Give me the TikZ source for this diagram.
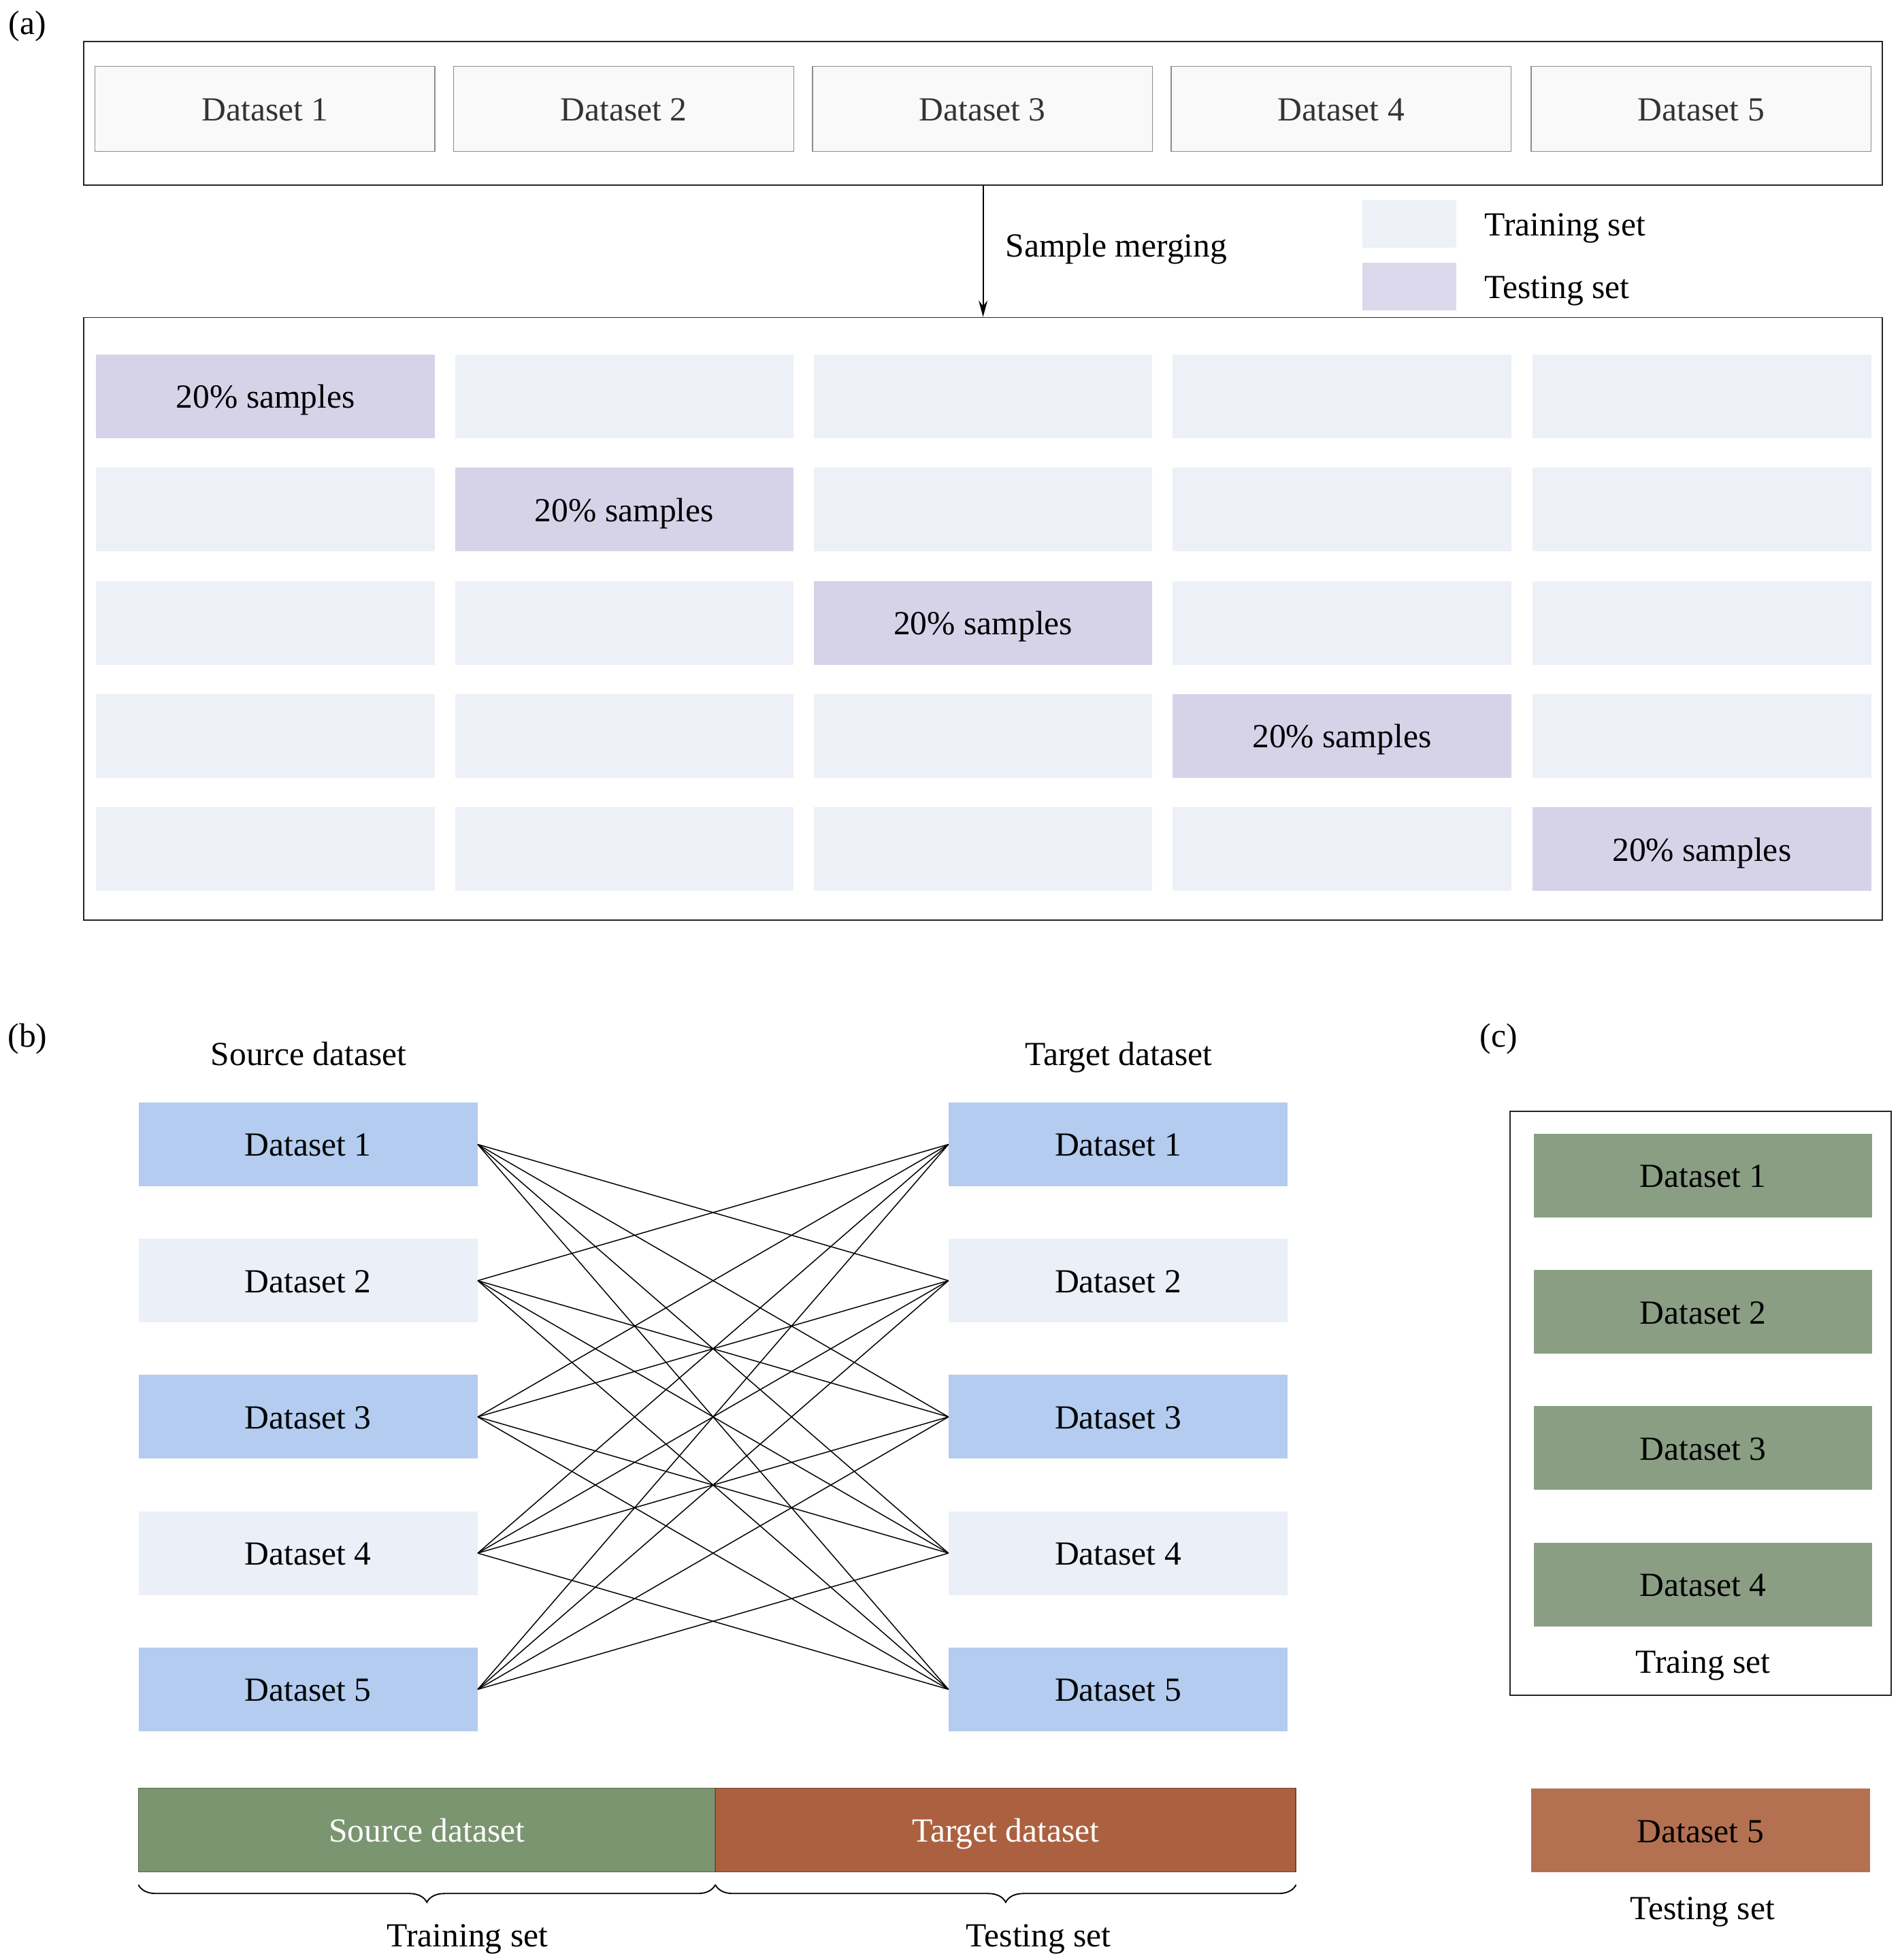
\documentclass[tikz,border=0pt]{standalone}
\usepackage{fontspec}
\setmainfont{Liberation Serif}
\usetikzlibrary{arrows.meta, positioning, decorations.pathreplacing}

\definecolor{rawfill}{HTML}{F9F9F9}
\definecolor{rawline}{HTML}{8C8C8C}
\definecolor{trainfill}{HTML}{EEF0F8}
\definecolor{testfill}{HTML}{D6D3E9}
\definecolor{legtest}{HTML}{DCD9EC}
\definecolor{blueset}{HTML}{B3CCF0}
\definecolor{paleset}{HTML}{EBEFF7}
\definecolor{srcgreen}{HTML}{7B9571}
\definecolor{tgtbrown}{HTML}{AB6140}
\definecolor{cgreen}{HTML}{8A9E84}
\definecolor{cbrown}{HTML}{B37152}

\tikzset{
    setbox/.style={minimum width=271pt, minimum height=67pt, inner sep=0pt},
    rawbox/.style={setbox, fill=rawfill, draw=rawline, line width=0.8pt, text=black!80},
    frame/.style={draw=black!85, line width=1pt}
}

\begin{document}
\begin{tikzpicture}[
    x=1pt, y=-1pt,
    > = Stealth,
    font=\fontsize{27}{32}\selectfont,
    every node/.style={text height=20pt, text depth=1pt}
]
    % Fix the page size
    \useasboundingbox (0,0) rectangle (1520,1568);

    % ---------------- (a) ----------------
    \node at (22,18) {(a)};
    \node[frame, minimum width=1439pt, minimum height=115pt, inner sep=0pt] (rawframe) at (786.5,90.5) {};
    \foreach \k/\cx in {1/212,2/499,3/786,4/1073,5/1361}
        \node[rawbox, minimum width=272pt, minimum height=68pt] (raw\k) at (\cx,87) {Dataset \k};

    % Merged samples frame
    \node[frame, minimum width=1439pt, minimum height=482pt, inner sep=0pt] (gridframe) at (786.5,495) {};
    \draw[->, line width=1pt, >={Stealth[length=13pt, width=7pt]}] (rawframe.south) -- (gridframe.north);
    \node[anchor=west] (merge) at (801,196) {Sample merging};

    % Legend
    \node[fill=trainfill, minimum width=75pt, minimum height=38pt, inner sep=0pt] (legtrain) at (1127.5,179) {};
    \node[right=19pt of legtrain] {Training set};
    \node[fill=legtest, minimum width=75pt, minimum height=38pt, inner sep=0pt] (legtst) at (1127.5,229) {};
    \node[right=19pt of legtst] {Testing set};

    % Five folds, one testing block per row
    \foreach \r in {0,...,4} {
        \foreach \c/\cx in {0/212.5,1/499.5,2/786.5,3/1073.5,4/1361.5} {
            \ifnum\r=\c
                \node[setbox, fill=testfill] (cell\r\c) at (\cx,317+90.6*\r) {20\% samples};
            \else
                \node[setbox, fill=trainfill] (cell\r\c) at (\cx,317+90.6*\r) {};
            \fi
        }
    }

    % ---------------- (b) ----------------
    \node at (22,828) {(b)};
    \node (srctitle) at (247,843) {Source dataset};
    \node (tgttitle) at (895,843) {Target dataset};
    \foreach \k in {1,...,5} {
        \pgfmathparse{isodd(\k) ? "blueset" : "paleset"}
        \edef\boxcol{\pgfmathresult}
        \node[setbox, fill=\boxcol] (src\k) at (246.5,915.5+109*\k-109) {Dataset \k};
        \node[setbox, fill=\boxcol] (tgt\k) at (894.5,915.5+109*\k-109) {Dataset \k};
    }
    % Every source paired with every other target
    \foreach \i in {1,...,5}
        \foreach \j in {1,...,5} {
            \ifnum\i=\j\else
                \draw[line width=0.8pt] (src\i.east) -- (tgt\j.west);
            \fi
        }

    % Split bar with braces
    \node[setbox, minimum width=461pt, fill=srcgreen, draw=srcgreen!70!black, line width=0.6pt, text=white] (srcbar) at (341.5,1464) {Source dataset};
    \node[setbox, minimum width=464pt, fill=tgtbrown, draw=tgtbrown!70!black, line width=0.6pt, text=white, right=0pt of srcbar] (tgtbar) {Target dataset};
    \draw[line width=1pt, decorate, decoration={brace, mirror, amplitude=14pt}]
        ([yshift=-10pt]srcbar.south west) -- ([yshift=-10pt]srcbar.south east);
    \draw[line width=1pt, decorate, decoration={brace, mirror, amplitude=14pt}]
        ([yshift=-10pt]tgtbar.south west) -- ([yshift=-10pt]tgtbar.south east);
    \node (trainlbl) at (374,1548) {Training set};
    \node (testlbl) at (831,1548) {Testing set};

    % ---------------- (c) ----------------
    \node at (1199,828) {(c)};
    \node[frame, minimum width=305pt, minimum height=467pt, inner sep=0pt] (cframe) at (1360.5,1122.5) {};
    \foreach \k in {1,...,4}
        \node[setbox, fill=cgreen] (ctrain\k) at (1362.5,940.5+109*\k-109) {Dataset \k};
    \node (ctrainlbl) at (1362.5,1329) {Traing set};
    \node[setbox, fill=cbrown] (ctest) at (1360.5,1464.5) {Dataset 5};
    \node (ctestlbl) at (1362,1526) {Testing set};
\end{tikzpicture}
\end{document}
